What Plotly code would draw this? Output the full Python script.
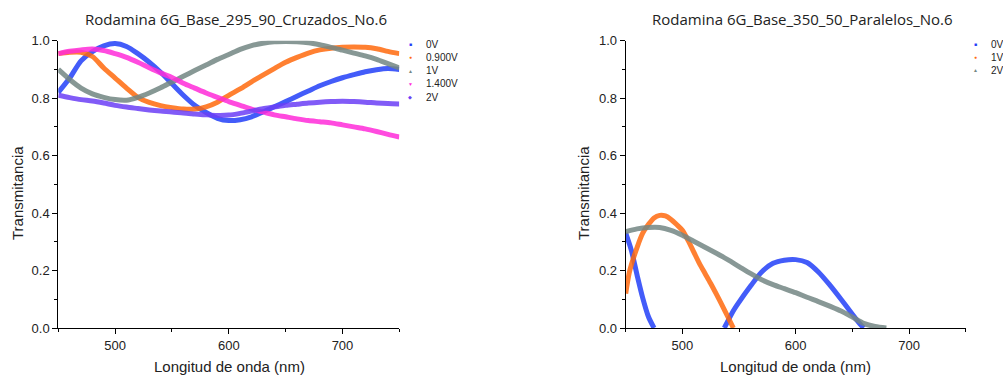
import plotly.graph_objects as go

# ---------------- data ----------------
wl_left = [450, 460, 470, 480, 490, 500, 510, 520, 530, 540, 550, 560, 570, 580, 590,
           600, 610, 620, 630, 640, 650, 660, 670, 680, 690, 700, 710, 720, 730, 740, 750]
left_0V = [0.82, 0.87, 0.93, 0.962, 0.982, 0.99, 0.98, 0.955, 0.925, 0.89, 0.85, 0.81, 0.775, 0.75, 0.73,
           0.722, 0.725, 0.735, 0.752, 0.77, 0.788, 0.807, 0.825, 0.843, 0.858, 0.871, 0.882, 0.892, 0.899, 0.903, 0.90]
left_0900V = [0.955, 0.96, 0.96, 0.945, 0.905, 0.87, 0.835, 0.803, 0.785, 0.774, 0.767, 0.762, 0.762, 0.77, 0.786,
              0.81, 0.832, 0.857, 0.88, 0.903, 0.925, 0.942, 0.957, 0.968, 0.974, 0.977, 0.978, 0.977, 0.972, 0.963, 0.955]
left_1V = [0.90, 0.865, 0.835, 0.815, 0.803, 0.795, 0.793, 0.803, 0.818, 0.836, 0.856, 0.876, 0.896, 0.915, 0.935,
           0.952, 0.97, 0.983, 0.991, 0.996, 0.997, 0.996, 0.993, 0.986, 0.977, 0.967, 0.957, 0.947, 0.935, 0.92, 0.905]
left_1400V = [0.955, 0.963, 0.968, 0.971, 0.966, 0.955, 0.942, 0.925, 0.906, 0.888, 0.872, 0.852, 0.835, 0.818, 0.803,
              0.788, 0.775, 0.762, 0.752, 0.742, 0.735, 0.728, 0.722, 0.718, 0.714, 0.707, 0.70, 0.693, 0.684, 0.674, 0.665]
left_2V = [0.81, 0.802, 0.795, 0.79, 0.783, 0.775, 0.769, 0.764, 0.759, 0.755, 0.752, 0.748, 0.745, 0.742, 0.74,
           0.741, 0.747, 0.755, 0.763, 0.769, 0.775, 0.779, 0.783, 0.786, 0.788, 0.789, 0.788, 0.786, 0.783, 0.781, 0.78]

wl_right_0V = [450, 455, 460, 465, 470, 475, None, 537, 545, 550, 560, 570, 580, 590, 600, 610, 620, 630, 640, 650, 655, 660]
right_0V = [0.33, 0.27, 0.185, 0.105, 0.04, 0.0, None, 0.0, 0.06, 0.09, 0.145, 0.195, 0.225, 0.236, 0.238, 0.228,
            0.195, 0.15, 0.10, 0.048, 0.022, 0.0]
wl_right_1V = [450, 453, 455, 460, 465, 470, 475, 480, 485, 490, 495, 500, 505, 510, 515, 520, 525, 530, 535, 540, 545]
right_1V = [0.12, 0.19, 0.22, 0.28, 0.33, 0.36, 0.383, 0.392, 0.39, 0.378, 0.36, 0.34, 0.305, 0.265, 0.225, 0.19,
            0.155, 0.118, 0.08, 0.04, 0.0]
wl_right_2V = [450, 460, 470, 480, 490, 500, 510, 520, 530, 540, 550, 560, 570, 580, 590, 600, 610, 620, 630, 640,
               650, 660, 670, 680]
right_2V = [0.335, 0.345, 0.35, 0.35, 0.34, 0.323, 0.302, 0.281, 0.26, 0.238, 0.214, 0.19, 0.168, 0.151, 0.137, 0.123,
            0.107, 0.092, 0.076, 0.059, 0.038, 0.016, 0.005, 0.0]

left_titles = ["0V", "0.900V", "1V", "1.400V", "2V"]
right_titles = ["0V", "1V", "2V"]

# ---------------- style ----------------
BLUE, ORANGE, GRAY, MAGENTA, PURPLE = "#2440F8", "#FF6A10", "#748784", "#FF2CDA", "#6C3FF6"
left_colors = [BLUE, ORANGE, GRAY, MAGENTA, PURPLE]
left_syms = ["■", "●", "▲", "▼", "◆"]
right_colors = [BLUE, ORANGE, GRAY]
right_syms = ["■", "●", "▲"]

W, H = 1003, 376
def px(x):
    return x / W
def py(y):
    return 1 - y / H

fig = go.Figure()

left_series = [left_0V, left_0900V, left_1V, left_1400V, left_2V]
for name, ys, col in zip(left_titles, left_series, left_colors):
    fig.add_trace(go.Scatter(x=wl_left, y=ys, mode="lines", name=name,
                             line=dict(color=col, width=5, shape="spline", smoothing=0.8),
                             opacity=0.85, showlegend=False, xaxis="x", yaxis="y"))

right_series = [(wl_right_0V, right_0V), (wl_right_1V, right_1V), (wl_right_2V, right_2V)]
for name, (xs, ys), col in zip(right_titles, right_series, right_colors):
    fig.add_trace(go.Scatter(x=xs, y=ys, mode="lines", name=name,
                             line=dict(color=col, width=5, shape="spline", smoothing=0.8),
                             opacity=0.85, showlegend=False, xaxis="x2", yaxis="y2", connectgaps=False))

TICKFONT = dict(family="Liberation Sans, Arial", size=13, color="#222")
def xaxis(domain, anchor):
    return dict(domain=domain, anchor=anchor, range=[450, 750], tickmode="linear", tick0=500, dtick=100,
                showline=True, linecolor="black", linewidth=1, ticks="outside", ticklen=5, tickcolor="black",
                showgrid=False, zeroline=False, tickfont=TICKFONT, automargin=False,
                minor=dict(tickmode="linear", tick0=450, dtick=50, ticks="outside", ticklen=3, tickcolor="black",
                           showgrid=False))
def yaxis(anchor):
    return dict(domain=[1 - 328 / H, 1 - 40.7 / H], anchor=anchor, range=[0, 1], tickmode="linear", tick0=0,
                dtick=0.2, tickformat=".1f", showline=True, linecolor="black", linewidth=1, ticks="outside",
                ticklen=5, tickcolor="black", showgrid=False, zeroline=False, tickfont=TICKFONT, automargin=False,
                minor=dict(tickmode="linear", tick0=0, dtick=0.1, ticks="outside", ticklen=3, tickcolor="black",
                           showgrid=False))

annotations = []
TFONT = dict(family="Open Sans, Noto Sans", size=15, color="#222")
AFONT = dict(family="Liberation Sans, Arial", size=15, color="#222")
annotations.append(dict(text="Rodamina 6G_Base_295_90_Cruzados_No.6", x=px(236), y=py(19), xref="paper",
                        yref="paper", showarrow=False, font=TFONT, xanchor="center", yanchor="middle"))
annotations.append(dict(text="Rodamina 6G_Base_350_50_Paralelos_No.6", x=px(802), y=py(19), xref="paper",
                        yref="paper", showarrow=False, font=TFONT, xanchor="center", yanchor="middle"))
for cx in (17, 583):
    annotations.append(dict(text="Transmitancia", x=px(cx), y=py(193), xref="paper", yref="paper",
                            showarrow=False, textangle=-90, font=AFONT, xanchor="center", yanchor="middle"))
for cx in (229, 795):
    annotations.append(dict(text="Longitud de onda (nm)", x=px(cx), y=py(366), xref="paper", yref="paper",
                            showarrow=False, font=AFONT, xanchor="center", yanchor="middle"))

LFONT = dict(family="Liberation Sans, Arial", size=10, color="#222")
for i, (name, col, sym) in enumerate(zip(left_titles, left_colors, left_syms)):
    yy = [44, 57, 70.5, 84, 97][i]
    annotations.append(dict(text=sym, x=px(410), y=py(yy), xref="paper", yref="paper", showarrow=False,
                            font=dict(size=5, color=col), xanchor="center", yanchor="middle"))
    annotations.append(dict(text=name, x=px(424), y=py(yy), xref="paper", yref="paper", showarrow=False,
                            font=LFONT, xanchor="left", yanchor="middle"))
for i, (name, col, sym) in enumerate(zip(right_titles, right_colors, right_syms)):
    yy = [44, 57, 70][i]
    annotations.append(dict(text=sym, x=px(975), y=py(yy), xref="paper", yref="paper", showarrow=False,
                            font=dict(size=5, color=col), xanchor="center", yanchor="middle"))
    annotations.append(dict(text=name, x=px(989), y=py(yy), xref="paper", yref="paper", showarrow=False,
                            font=LFONT, xanchor="left", yanchor="middle"))

fig.update_layout(
    width=W, height=H, margin=dict(l=0, r=0, t=0, b=0, pad=0), autosize=False,
    paper_bgcolor="white", plot_bgcolor="white", showlegend=False,
    xaxis=xaxis([58.3 / W, 399.3 / W], "y"),
    yaxis=yaxis("x"),
    xaxis2=xaxis([625.7 / W, 965.7 / W], "y2"),
    yaxis2=yaxis("x2"),
    annotations=annotations,
)

fig.write_html("out.html")
